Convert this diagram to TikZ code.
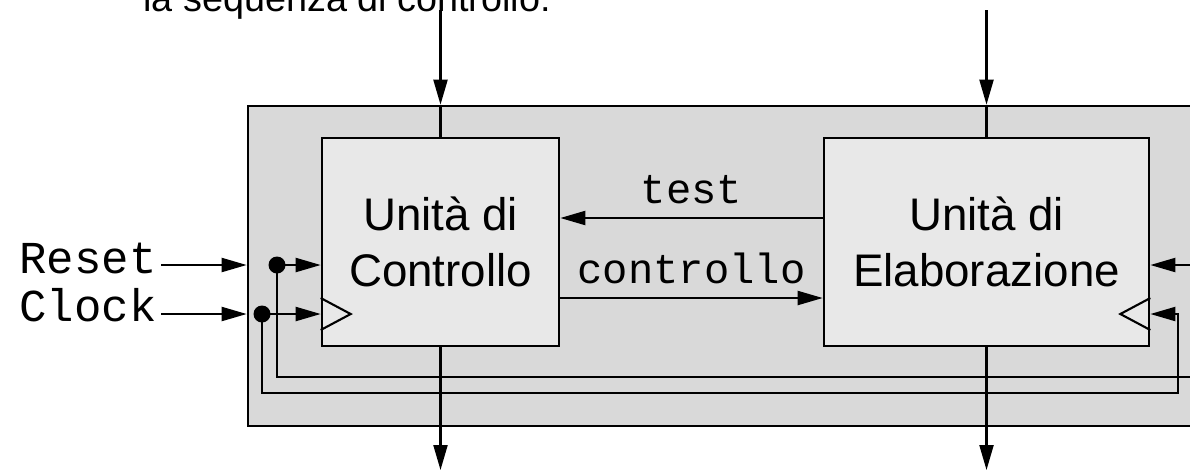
\documentclass[tikz,border=0pt]{standalone}
\usepackage{fontspec}
\setmainfont{Liberation Sans}
\setmonofont{Liberation Mono}
\usetikzlibrary{arrows.meta}

\definecolor{sysgray}{gray}{0.85}
\definecolor{unitgray}{gray}{0.91}

\tikzset{
  wire/.style={line width=1.2pt},
  sig/.style={wire, -{Triangle[length=5mm,width=2.8mm]}},
  sysbox/.style={draw, line width=1.5pt, fill=sysgray, inner sep=0pt},
  unitbox/.style={draw, line width=1.5pt, fill=unitgray, align=center,
    font=\fontsize{26}{32}\selectfont, minimum height=41.6mm},
  pin/.style={font=\ttfamily\fontsize{26}{30}\selectfont, inner sep=0.8mm},
  lab/.style={font=\ttfamily\fontsize{24}{28}\selectfont, inner sep=0pt}
}

\begin{document}
\begin{tikzpicture}[x=0.2mm,y=-0.2mm]
  \useasboundingbox (0,0) rectangle (1190,472);
  \clip (0,0) rectangle (1190,472);

  % title line, cut at the top
  \node[anchor=base west, inner sep=0, font=\fontsize{21.5}{25}\selectfont] (title)
    at (143,11) {la sequenza di controllo:};

  % system and the two units
  \node[sysbox, minimum width=198.4mm, minimum height=64mm] (sys) at (744,266) {};
  \node[unitbox, minimum width=47.4mm] (uc) at (440.5,242) {Unità di\\Controllo};
  \node[unitbox, minimum width=65mm] (ue) at (986.5,242) {Unità di\\Elaborazione};

  % external inputs
  \node[pin, anchor=base east] (reset) at (161,273) {Reset};
  \node[pin, anchor=base east] (clock) at (161,321) {Clock};
  \coordinate (rdot) at (277,265);
  \coordinate (cdot) at (262,314);

  % top inputs and bottom outputs
  \coordinate (inL) at (440.5,10);
  \coordinate (inR) at (986.5,10);
  \coordinate (outL) at (440.5,470);
  \coordinate (outR) at (986.5,470);
  \draw[sig] (inL) -- (inL |- sys.north);
  \draw[wire] (inL |- sys.north) -- (uc.north);
  \draw[sig] (inR) -- (inR |- sys.north);
  \draw[wire] (inR |- sys.north) -- (ue.north);
  \draw[sig] (uc.south) -- (outL);
  \draw[sig] (ue.south) -- (outR);

  % test / controllo between the units
  \draw[sig] (ue.west |- 0,218) -- (uc.east |- 0,218)
    node[lab, midway, above=2.6mm] {test};
  \draw[sig] (uc.east |- 0,298) -- (ue.west |- 0,298)
    node[lab, midway, above=2.6mm] {controllo};

  % reset
  \draw[sig] (reset.base east |- rdot) -- (sys.west |- rdot);
  \draw[sig] (rdot) -- (uc.west |- rdot);
  \coordinate (rback) at (1230,377);
  \draw[sig] (rdot) |- (rback) |- (ue.east |- rdot);
  \fill (rdot) circle (1.7mm);

  % clock
  \draw[sig] (clock.base east |- cdot) -- (sys.west |- cdot);
  \draw[sig] (cdot) -- (uc.west |- cdot);
  \coordinate (cback) at (1178,393);
  \draw[sig] (cdot) |- (cback) |- (ue.east |- cdot);
  \fill (cdot) circle (1.7mm);

  % clock marks
  \draw[wire] (uc.west |- cdot) ++(0,-16) -- ++(30,16) -- ++(-30,16);
  \draw[wire] (ue.east |- cdot) ++(0,-16) -- ++(-30,16) -- ++(30,16);
\end{tikzpicture}
\end{document}
